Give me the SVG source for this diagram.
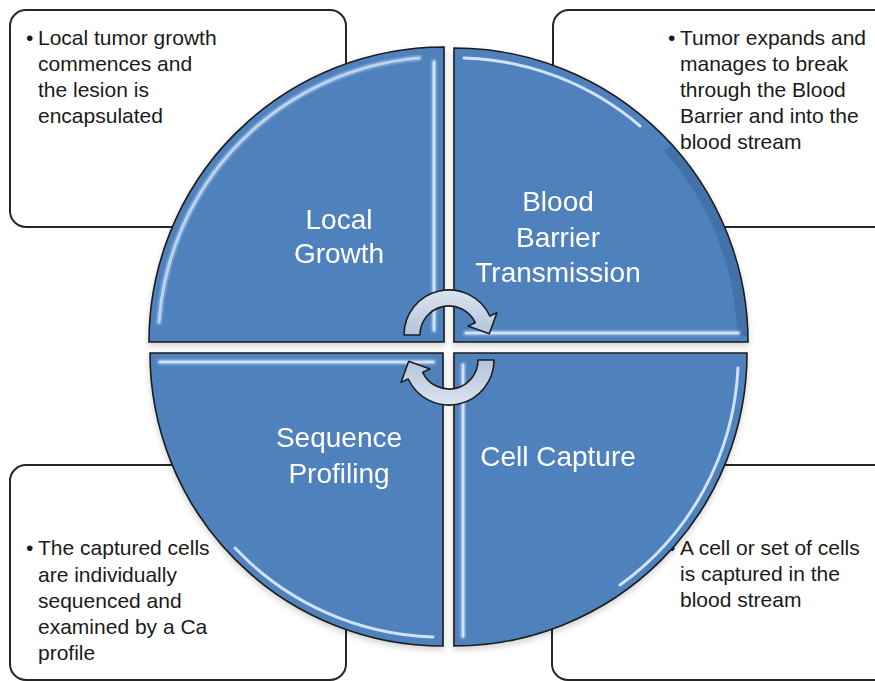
<svg xmlns="http://www.w3.org/2000/svg" width="875" height="681" viewBox="0 0 875 681">
<style>
.box{fill:#ffffff;stroke:#262626;stroke-width:2}
.btxt{font-family:"Liberation Sans",Arial,sans-serif;font-size:21px;fill:#1a1a1a}
.quad{fill:#4f81bd;stroke:#1c1c1c;stroke-width:1.6}
.qtxt{font-family:"Liberation Sans",Arial,sans-serif;font-size:28px;fill:#ffffff;text-anchor:middle}
.hl{fill:none;stroke:#cfe2f8;stroke-width:3;stroke-linecap:round}
.hls{fill:none;stroke:#a9c8ee;stroke-width:7;stroke-opacity:0.35;stroke-linecap:round}
.dk{fill:none;stroke:#34608f;stroke-width:10;stroke-opacity:0.45}
.arrow{fill:url(#arrowGrad);stroke:#1e1e1e;stroke-width:1.6;stroke-linejoin:round}
</style>
<defs>
<linearGradient id="arrowGrad" x1="0" y1="0" x2="0" y2="1">
<stop offset="0" stop-color="#dbe3ef"/>
<stop offset="1" stop-color="#b4c4db"/>
</linearGradient>
<linearGradient id="gTRarc" gradientUnits="userSpaceOnUse" x1="464" y1="57" x2="640" y2="125">
<stop offset="0" stop-color="#d6e7fa" stop-opacity="1"/>
<stop offset="1" stop-color="#d6e7fa" stop-opacity="0"/>
</linearGradient>
<linearGradient id="gBLarc" gradientUnits="userSpaceOnUse" x1="433" y1="637" x2="235" y2="548">
<stop offset="0" stop-color="#d6e7fa" stop-opacity="1"/>
<stop offset="1" stop-color="#d6e7fa" stop-opacity="0"/>
</linearGradient>
<linearGradient id="gBRarc" gradientUnits="userSpaceOnUse" x1="738" y1="368" x2="620" y2="585">
<stop offset="0" stop-color="#d6e7fa" stop-opacity="1"/>
<stop offset="1" stop-color="#d6e7fa" stop-opacity="0.1"/>
</linearGradient>
<clipPath id="clipTR">
<path d="M454,342 L454,48 A294,294 0 0 1 748,342 Z"/>
</clipPath>
<filter id="shadow" x="-10%" y="-10%" width="120%" height="120%">
<feDropShadow dx="0" dy="3" stdDeviation="3" flood-color="#000000" flood-opacity="0.18"/>
</filter>
</defs>
<rect width="875" height="681" fill="#ffffff"/>

<g id="box-local-growth">
<rect class="box" x="10" y="10" width="336" height="217" rx="16"/>
<text class="btxt" x="26" y="45">•<tspan x="38">Local tumor growth</tspan><tspan x="38" y="71">commences and</tspan><tspan x="38" y="97">the lesion is</tspan><tspan x="38" y="123">encapsulated</tspan></text>
</g>
<g id="box-blood-barrier">
<rect class="box" x="553" y="10" width="340" height="217" rx="16"/>
<text class="btxt" x="668" y="45">•<tspan x="680">Tumor expands and</tspan><tspan x="680" y="71">manages to break</tspan><tspan x="680" y="97">through the Blood</tspan><tspan x="680" y="123">Barrier and into the</tspan><tspan x="680" y="149">blood stream</tspan></text>
</g>
<g id="box-sequence-profiling">
<rect class="box" x="10" y="465" width="336" height="215" rx="16"/>
<text class="btxt" x="26" y="555">•<tspan x="38">The captured cells</tspan><tspan x="38" y="582">are individually</tspan><tspan x="38" y="608">sequenced and</tspan><tspan x="38" y="634">examined by a Ca</tspan><tspan x="38" y="660">profile</tspan></text>
</g>
<g id="box-cell-capture">
<rect class="box" x="552" y="465" width="340" height="215" rx="16"/>
<text class="btxt" x="668" y="555">•<tspan x="680">A cell or set of cells</tspan><tspan x="680" y="581">is captured in the</tspan><tspan x="680" y="607">blood stream</tspan></text>
</g>

<g id="quad-local-growth" filter="url(#shadow)">
<path class="quad" d="M444,342 L149,342 A295,295 0 0 1 444,47 Z"/>
<path class="hls" d="M159,322 A285,285 0 0 1 419,58"/>
<path class="hl" d="M159,322 A285,285 0 0 1 419,58" stroke-opacity="0.8"/>
<path class="hls" d="M434,62 L434,330"/>
<path class="hl" d="M434,62 L434,330"/>
<text class="qtxt" x="339" y="229">Local</text>
<text class="qtxt" x="339" y="263">Growth</text>
</g>

<g id="quad-blood-barrier" filter="url(#shadow)">
<path class="quad" d="M454,342 L454,48 A294,294 0 0 1 748,342 Z"/>
<path class="dk" clip-path="url(#clipTR)" d="M668,148 A290,290 0 0 1 742,336"/>
<path class="hl" d="M464,58 A284,284 0 0 1 640,126" stroke="url(#gTRarc)" stroke-width="4"/>
<path class="hls" d="M466,333 L738,333"/>
<path class="hl" d="M466,333 L738,333"/>
<text class="qtxt" x="558" y="211">Blood</text>
<text class="qtxt" x="558" y="247">Barrier</text>
<text class="qtxt" x="558" y="282">Transmission</text>
</g>

<g id="quad-sequence-profiling" filter="url(#shadow)">
<path class="quad" d="M443,353 L150,353 A293,293 0 0 0 443,646 Z"/>
<path class="hls" d="M160,362 L433,362"/>
<path class="hl" d="M160,362 L433,362"/>
<path class="hl" d="M235,548 A284,284 0 0 0 433,637" stroke="url(#gBLarc)" stroke-width="4"/>
<text class="qtxt" x="339" y="447">Sequence</text>
<text class="qtxt" x="339" y="483">Profiling</text>
</g>

<g id="quad-cell-capture" filter="url(#shadow)">
<path class="quad" d="M454,353 L747,353 A293,293 0 0 1 454,646 Z"/>
<path class="hls" d="M463,365 L463,636"/>
<path class="hl" d="M463,365 L463,636"/>
<path class="hl" d="M738,368 A284,284 0 0 1 620,585" stroke="url(#gBRarc)" stroke-width="4"/>
<text class="qtxt" x="558" y="466">Cell Capture</text>
</g>

<g id="connectors">
<path id="arrow-top" class="arrow" d="M404,335 A45,45 0 0 1 489.8,316 L497,312.6 L489.3,333.8 L468,326.1 L475.3,322.7 A29,29 0 0 0 420,335 Z"/>
<path id="arrow-bottom" class="arrow" transform="rotate(180 449 347.5)" d="M404,335 A45,45 0 0 1 489.8,316 L497,312.6 L489.3,333.8 L468,326.1 L475.3,322.7 A29,29 0 0 0 420,335 Z"/>
</g>
</svg>
